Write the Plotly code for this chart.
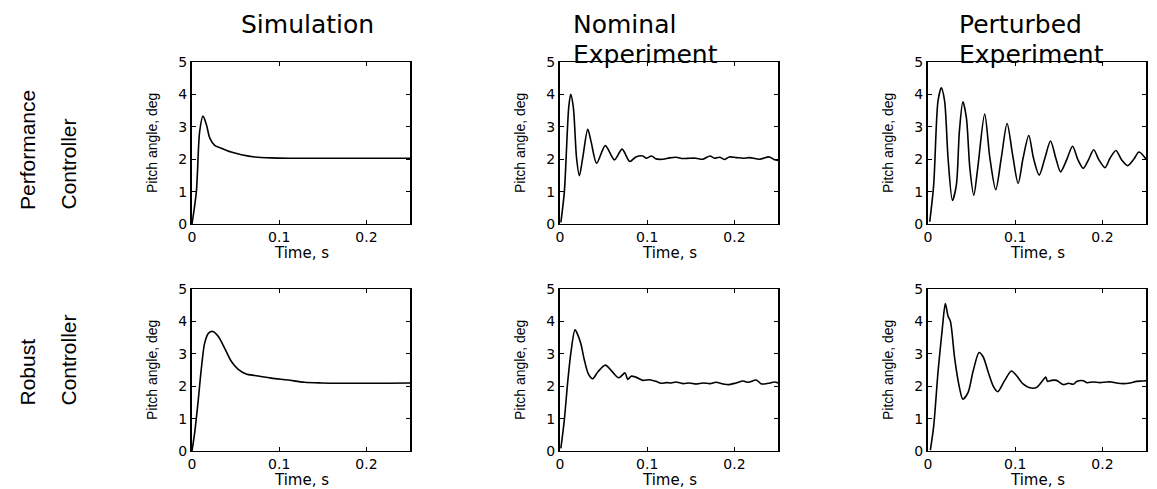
import plotly.graph_objects as go

# ---------------- data ----------------
sim_perf_t = [0, 0.005, 0.0088, 0.0126, 0.0165, 0.0203, 0.026, 0.0337, 0.045, 0.0567, 0.072, 0.091, 0.11, 0.15, 0.2, 0.25]
sim_perf_y = [0, 1.0, 2.86, 3.33, 3.07, 2.66, 2.43, 2.34, 2.22, 2.14, 2.07, 2.04, 2.03, 2.03, 2.03, 2.03]

nom_perf_t = [0.001, 0.005, 0.010, 0.0123, 0.0153, 0.019, 0.0222, 0.026, 0.0318, 0.0356, 0.042, 0.052, 0.0624,
              0.0712, 0.080, 0.087, 0.095, 0.099, 0.105, 0.110, 0.118, 0.1255, 0.133, 0.141, 0.1485, 0.156,
              0.164, 0.172, 0.177, 0.183, 0.189, 0.194, 0.202, 0.210, 0.217, 0.229, 0.240, 0.246, 0.250]
nom_perf_y = [0.05, 1.0, 3.6, 4.0, 3.6, 2.03, 1.49, 2.03, 2.92, 2.55, 1.875, 2.42, 1.98,
              2.31, 1.93, 2.07, 2.10, 2.03, 2.10, 2.01, 2.00, 2.04, 2.06, 2.02, 2.03, 2.03,
              2.00, 2.10, 2.03, 2.06, 1.99, 2.07, 2.05, 2.03, 2.05, 2.00, 2.07, 1.98, 1.96]

per_perf_t = [0.002, 0.0065, 0.0115, 0.0153, 0.019, 0.023, 0.028, 0.0325, 0.036, 0.040, 0.044, 0.048, 0.0525,
              0.057, 0.065, 0.071, 0.0777, 0.084, 0.0907, 0.097, 0.1034, 0.109, 0.1156, 0.121, 0.1275,
              0.134, 0.1405, 0.1466, 0.152, 0.159, 0.1658, 0.172, 0.178, 0.184, 0.190, 0.196, 0.203,
              0.2087, 0.2155, 0.222, 0.229, 0.2355, 0.242, 0.250]
per_perf_y = [0.07, 1.2, 3.8, 4.2, 3.8, 2.03, 0.73, 1.2, 2.86, 3.77, 3.28, 1.72, 0.89,
              1.72, 3.39, 2.03, 1.06, 2.03, 3.10, 2.14, 1.25, 2.03, 2.73, 2.03, 1.51,
              2.03, 2.56, 2.03, 1.61, 1.98, 2.40, 1.98, 1.72, 1.98, 2.29, 1.98, 1.74,
              2.03, 2.27, 1.98, 1.80, 1.98, 2.22, 2.00]

sim_rob_t = [0, 0.003, 0.0069, 0.0107, 0.0145, 0.019, 0.024, 0.030, 0.0375, 0.045, 0.053, 0.062, 0.072,
             0.091, 0.110, 0.129, 0.1485, 0.187, 0.225, 0.250]
sim_rob_y = [0, 0.55, 1.5, 2.54, 3.33, 3.64, 3.69, 3.54, 3.17, 2.77, 2.52, 2.38, 2.33,
             2.25, 2.19, 2.12, 2.10, 2.09, 2.09, 2.10]

nom_rob_t = [0.001, 0.005, 0.0088, 0.0126, 0.0172, 0.0203, 0.024, 0.028, 0.0325, 0.0375, 0.0433, 0.052,
             0.0586, 0.0674, 0.0746, 0.0777, 0.0815, 0.087, 0.095, 0.1026, 0.110, 0.116, 0.122, 0.1275,
             0.133, 0.141, 0.1485, 0.156, 0.164, 0.172, 0.179, 0.187, 0.194, 0.202, 0.210, 0.216, 0.225,
             0.231, 0.239, 0.246, 0.250]
nom_rob_y = [0.08, 0.97, 2.12, 3.06, 3.74, 3.59, 3.30, 2.80, 2.38, 2.23, 2.44, 2.65,
             2.49, 2.26, 2.41, 2.21, 2.31, 2.28, 2.18, 2.20, 2.15, 2.09, 2.11, 2.10,
             2.13, 2.08, 2.10, 2.07, 2.10, 2.08, 2.12, 2.07, 2.05, 2.10, 2.16, 2.12, 2.19,
             2.07, 2.09, 2.13, 2.10]

per_rob_t = [0.0027, 0.0065, 0.0115, 0.0165, 0.0199, 0.023, 0.0257, 0.0306, 0.0356, 0.040, 0.046, 0.0517,
             0.0586, 0.0632, 0.069, 0.0754, 0.080, 0.088, 0.0957, 0.1014, 0.109, 0.1167, 0.1244, 0.130,
             0.135, 0.137, 0.1417, 0.1474, 0.155, 0.161, 0.1666, 0.171, 0.178, 0.182, 0.1895, 0.197,
             0.205, 0.2105, 0.216, 0.224, 0.2316, 0.239, 0.245, 0.250]
per_rob_y = [0.03, 0.76, 2.44, 3.80, 4.55, 4.16, 4.00, 2.86, 2.02, 1.60, 1.81, 2.46,
             3.04, 2.91, 2.44, 1.97, 1.83, 2.18, 2.47, 2.33, 2.07, 1.95, 1.96, 2.12,
             2.28, 2.15, 2.18, 2.18, 2.05, 2.09, 2.06, 2.15, 2.17, 2.11, 2.13, 2.11,
             2.13, 2.13, 2.10, 2.08, 2.10, 2.15, 2.16, 2.17]

col_titles = [["Simulation"], ["Nominal", "Experiment"], ["Perturbed", "Experiment"]]
row_titles = [["Performance", "Controller"], ["Robust", "Controller"]]
x_title = "Time, s"
y_title = "Pitch angle, deg"
x_ticks = [0, 0.1, 0.2]
x_ticktext = ["0", "0.1", "0.2"]
y_ticks = [0, 1, 2, 3, 4, 5]

series = [
    [(sim_perf_t, sim_perf_y), (nom_perf_t, nom_perf_y), (per_perf_t, per_perf_y)],
    [(sim_rob_t, sim_rob_y), (nom_rob_t, nom_rob_y), (per_rob_t, per_rob_y)],
]

# ---------------- layout geometry (window pixels) ----------------
OFF = 8                      # default page body margin around the plot div
W, H = 1157 - OFF, 489 - OFF  # figure size so that the page fits the window
col_px = [(192, 410), (560, 778), (928, 1146)]
row_px = [(62, 224), (289, 451)]

def px(x):
    return (x - OFF) / W

def py(y):
    return 1 - (y - OFF) / H

WIDE = "DejaVu Sans, Verdana, sans-serif"
NARROW = "Liberation Sans, Arial, sans-serif"

fig = go.Figure()
annotations = []
for r in range(2):
    for c in range(3):
        idx = r * 3 + c + 1
        xa = "x" if idx == 1 else f"x{idx}"
        ya = "y" if idx == 1 else f"y{idx}"
        t, v = series[r][c]
        fig.add_trace(go.Scatter(x=t, y=v, mode="lines", xaxis=xa, yaxis=ya,
                                 line=dict(color="black", width=1.6, shape="spline", smoothing=0.8),
                                 showlegend=False, hoverinfo="skip"))
        x0, x1 = col_px[c]
        y0, y1 = row_px[r]
        common = dict(showgrid=False, zeroline=False, showline=True, mirror="ticks",
                      linecolor="black", ticks="inside", ticklen=4, tickcolor="black",
                      automargin=False,
                      tickfont=dict(family=WIDE, size=14, color="black"))
        fig.layout[("xaxis" if idx == 1 else f"xaxis{idx}")] = dict(
            domain=[px(x0), px(x1)], range=[0, 0.25], anchor=ya,
            tickvals=x_ticks, ticktext=x_ticktext, linewidth=1, **common)
        fig.layout[("yaxis" if idx == 1 else f"yaxis{idx}")] = dict(
            domain=[py(y1), py(y0)], range=[0, 5], anchor=xa,
            tickvals=y_ticks, linewidth=2, **common)
        # x axis title
        annotations.append(dict(x=px((x0 + x1) / 2), y=py(y1 + 18), xref="paper", yref="paper",
                                text=x_title, showarrow=False, xanchor="center", yanchor="top",
                                font=dict(family=WIDE, size=15, color="black")))
        # y axis title
        annotations.append(dict(x=px(x0 - 40), y=py((y0 + y1) / 2), xref="paper", yref="paper",
                                text=y_title, showarrow=False, textangle=-90,
                                xanchor="center", yanchor="middle",
                                font=dict(family=NARROW, size=14, color="black")))

# column titles (one annotation per line, left aligned as in the reference)
annotations.append(dict(x=px(307), y=py(OFF), xref="paper", yref="paper", text=col_titles[0][0],
                        showarrow=False, xanchor="center", yanchor="top",
                        font=dict(family=WIDE, size=25, color="black")))
for c, xl in [(1, 571), (2, 957)]:
    annotations.append(dict(x=px(xl), y=py(OFF), xref="paper", yref="paper", text=col_titles[c][0],
                            showarrow=False, xanchor="left", yanchor="top",
                            font=dict(family=WIDE, size=25, color="black")))
    annotations.append(dict(x=px(xl), y=py(54), xref="paper", yref="paper", text=col_titles[c][1],
                            showarrow=False, xanchor="left", yanchor="middle",
                            font=dict(family=WIDE, size=25, color="black")))

# row titles
for r, ybot in [(0, 212), (1, 408)]:
    for k, xc in [(0, 27), (1, 68)]:
        annotations.append(dict(x=px(xc), y=py(ybot), xref="paper", yref="paper",
                                text=row_titles[r][k], showarrow=False, textangle=-90,
                                xanchor="center", yanchor="bottom",
                                font=dict(family=NARROW, size=21, color="black")))

fig.update_layout(template="none", width=W, height=H, autosize=False,
                  margin=dict(l=0, r=0, t=0, b=0, pad=0),
                  paper_bgcolor="white", plot_bgcolor="white", annotations=annotations,
                  showlegend=False)
fig.write_html("out.html")
